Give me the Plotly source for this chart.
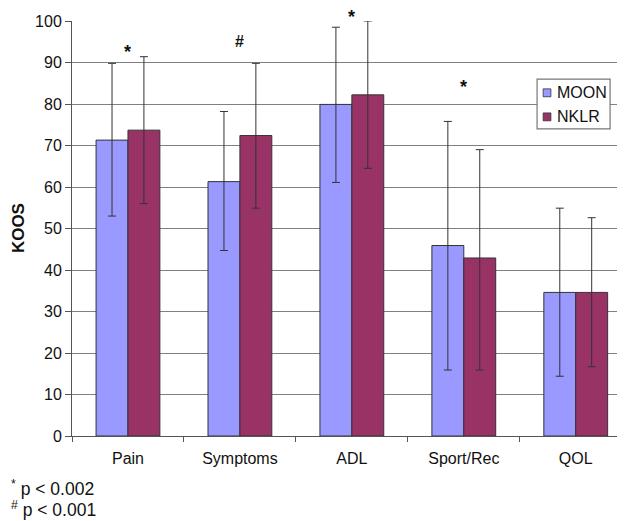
import plotly.graph_objects as go

categories = ["Pain", "Symptoms", "ADL", "Sport/Rec", "QOL"]
moon_mean = [71.3, 61.3, 79.9, 45.9, 34.6]
moon_sd_plus = [18.5, 16.9, 18.6, 29.9, 20.3]
moon_sd_minus = [18.3, 16.6, 18.8, 30.0, 20.2]
nklr_mean = [73.7, 72.4, 82.2, 42.9, 34.6]
nklr_sd_plus = [17.7, 17.4, 17.8, 26.1, 18.0]
nklr_sd_minus = [17.7, 17.5, 17.7, 27.0, 17.9]
sig_marks = ["*", "#", "*", "*", ""]
sig_y = [92.6, 95.0, 101.0, 84.2, None]
y_ticks = [0, 10, 20, 30, 40, 50, 60, 70, 80, 90, 100]
series_names = ["MOON", "NKLR"]
series_colors = ["#9999FF", "#993366"]
footnotes = ["<sup>*</sup> p < 0.002", "<sup>#</sup> p < 0.001"]

FONT = "Liberation Sans, Arial, sans-serif"
TXT = "#111111"
YMAX = 100

fig = go.Figure()
for name, color, mean, sp, sm in [
    (series_names[0], series_colors[0], moon_mean, moon_sd_plus, moon_sd_minus),
    (series_names[1], series_colors[1], nklr_mean, nklr_sd_plus, nklr_sd_minus),
]:
    fig.add_trace(go.Bar(
        x=categories, y=mean, name=name, showlegend=False,
        marker=dict(color=color, line=dict(color="#333333", width=1)),
        error_y=dict(type="data", symmetric=False, array=sp, arrayminus=sm,
                     color="#333333", thickness=1, width=4),
    ))

# significance markers (paper-y so markers above the axis top still show)
for c, m, yv in zip(categories, sig_marks, sig_y):
    if m:
        fig.add_annotation(x=c, y=yv / YMAX, xref="x", yref="paper", text="<b>" + m + "</b>",
                           showarrow=False, xanchor="center", yanchor="middle",
                           font=dict(family=FONT, size=18 if m == "*" else 16, color=TXT))

# y-axis title
fig.add_annotation(xref="paper", yref="paper", x=-0.0976, y=0.501, text="<b>KOOS</b>",
                   textangle=-90, showarrow=False, xanchor="center", yanchor="middle",
                   font=dict(family=FONT, size=17, color=TXT))

# footnotes
for i, fn in enumerate(footnotes):
    fig.add_annotation(xref="paper", yref="paper", x=-0.114, y=-0.125 - 0.051 * i,
                       xanchor="left", yanchor="middle", text=fn, showarrow=False,
                       font=dict(family=FONT, size=17.5, color=TXT))

# custom legend
lx0, lx1, ly0, ly1 = 0.841, 0.973, 0.740, 0.860
fig.add_shape(type="rect", xref="paper", yref="paper", x0=lx0, x1=lx1, y0=ly0, y1=ly1,
              fillcolor="white", line=dict(color="#777777", width=1.2), layer="above")
for i, (name, color) in enumerate(zip(series_names, series_colors)):
    yc = 0.827 - 0.058 * i
    fig.add_shape(type="rect", xref="paper", yref="paper", x0=0.852, x1=0.866,
                  y0=yc - 0.0095, y1=yc + 0.0095, fillcolor=color,
                  line=dict(color="#333333", width=0.8), layer="above")
    fig.add_annotation(xref="paper", yref="paper", x=0.873, y=yc, xanchor="left",
                       yanchor="middle", text=name, showarrow=False,
                       font=dict(family=FONT, size=16, color=TXT))

fig.update_layout(
    width=617, height=513,
    margin=dict(l=64, r=0, t=13, b=85),
    paper_bgcolor="white", plot_bgcolor="white",
    barmode="group", bargap=0.43, bargroupgap=0,
    font=dict(family=FONT, size=16, color=TXT),
    showlegend=False,
    xaxis=dict(range=[-0.5, 4.44], showline=True, linecolor="#555555", linewidth=1,
               ticks="outside", tickson="boundaries", ticklen=5, tickcolor="#555555",
               showgrid=False, tickfont=dict(family=FONT, size=16, color=TXT),
               ticklabelstandoff=8),
    yaxis=dict(range=[0, YMAX], tickvals=y_ticks, showline=True, linecolor="#555555", linewidth=1,
               ticks="outside", ticklen=6, tickcolor="#555555",
               showgrid=True, gridcolor="#808080", gridwidth=1,
               tickfont=dict(family=FONT, size=16, color=TXT)),
)

fig.write_html("out.html")
